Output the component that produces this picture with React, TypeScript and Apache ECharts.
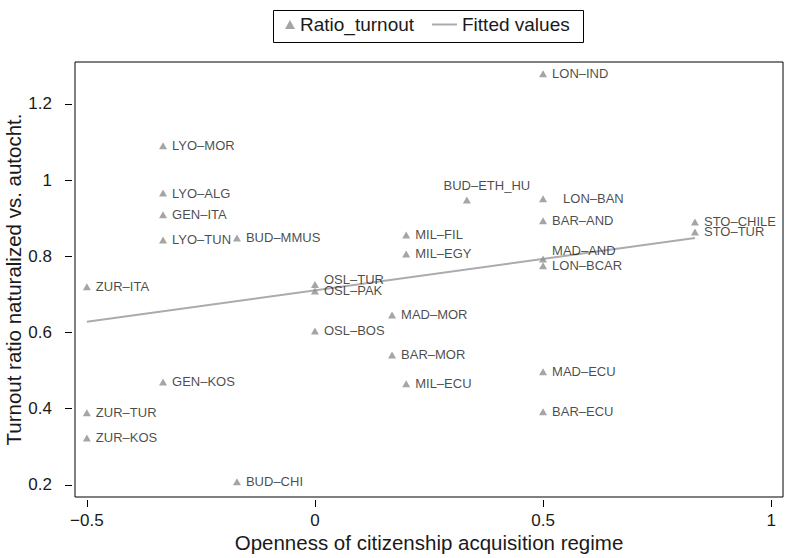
import React, { useEffect, useRef } from "react";
import * as echarts from "echarts";

// City–origin pairs: openness of the citizenship regime vs. turnout ratio
const pairNames = [
  "LON–IND", "LYO–MOR", "LYO–ALG", "GEN–ITA", "LYO–TUN", "BUD–MMUS", "ZUR–ITA",
  "OSL–TUR", "OSL–PAK", "OSL–BOS", "GEN–KOS", "ZUR–TUR", "ZUR–KOS", "BUD–CHI",
  "BUD–ETH_HU", "MIL–FIL", "MIL–EGY", "MAD–MOR", "BAR–MOR", "MIL–ECU", "LON–BAN",
  "BAR–AND", "MAD–AND", "LON–BCAR", "MAD–ECU", "BAR–ECU", "STO–CHILE", "STO–TUR",
];
const openness = [
  0.5, -0.333, -0.333, -0.333, -0.333, -0.171, -0.5,
  0, 0, 0, -0.333, -0.5, -0.5, -0.171,
  0.333, 0.2, 0.2, 0.169, 0.169, 0.2, 0.5,
  0.5, 0.5, 0.5, 0.5, 0.5, 0.833, 0.833,
];
const turnoutRatio = [
  1.279, 1.09, 0.966, 0.909, 0.843, 0.848, 0.72,
  0.726, 0.709, 0.604, 0.47, 0.389, 0.323, 0.208,
  0.948, 0.856, 0.806, 0.646, 0.541, 0.465, 0.951,
  0.893, 0.793, 0.775, 0.497, 0.392, 0.89, 0.864,
];

// Fitted regression line endpoints
const fitX = [-0.5, 0.833];
const fitY = [0.628, 0.848];

const xTicks = [-0.5, 0, 0.5, 1];
const yTicks = [0.2, 0.4, 0.6, 0.8, 1, 1.2];

// Marker-label placement for crowded points
const labelTweaks: Record<string, any> = {
  "BUD–ETH_HU": { position: "top", offset: [20, 0], distance: 4 },
  "OSL–TUR": { offset: [0, -5] },
  "MAD–AND": { offset: [0, -8] },
  "LON–BAN": { distance: 16 },
};

const FONT = "'Liberation Sans', Arial, Helvetica, sans-serif";
const INK = "#1a1a1a";
const MARK = "#8e8e8e";
const FIT = "#ababab";

export default function App() {
  const ref = useRef<HTMLDivElement>(null);

  useEffect(() => {
    if (!ref.current) return;
    const chart = echarts.init(ref.current, undefined, { renderer: "svg" });

    const points = pairNames.map((name, i) => {
      const t = labelTweaks[name];
      const item: any = { name, value: [openness[i], turnoutRatio[i]] };
      if (t) item.label = { ...t };
      return item;
    });

    const fmt = (v: number) => String(v).replace("-", "\u2212");
    const legendText = { fontFamily: FONT, fontSize: 19, color: INK };

    chart.setOption({
      animation: false,
      backgroundColor: "#ffffff",
      textStyle: { fontFamily: FONT },
      legend: [
        {
          left: 285,
          top: 15,
          padding: 0,
          itemWidth: 10,
          itemHeight: 9,
          textStyle: legendText,
          data: [{ name: "Ratio_turnout", icon: "triangle" }],
        },
        {
          left: 432,
          top: 15,
          padding: 0,
          itemWidth: 25,
          itemHeight: 2,
          textStyle: legendText,
          data: [{ name: "Fitted values", icon: "rect" }],
        },
      ],
      graphic: [
        {
          type: "rect",
          shape: { x: 273.5, y: 10.5, width: 310, height: 32 },
          style: { fill: "none", stroke: "#000", lineWidth: 1 },
          silent: true,
        },
      ],
      grid: {
        left: 75,
        right: 2,
        top: 62,
        bottom: 61,
        outerBoundsMode: "none",
        containLabel: false,
        show: true,
        borderColor: "#000",
        borderWidth: 1,
        backgroundColor: "#fff",
      },
      xAxis: {
        type: "value",
        min: -0.526,
        max: 1.026,
        offset: 3,
        name: "Openness of citizenship acquisition regime",
        nameLocation: "middle",
        nameGap: 32,
        nameMoveOverlap: false,
        nameTextStyle: { fontFamily: FONT, fontSize: 20.5, color: INK },
        axisLine: { show: false, onZero: false },
        splitLine: { show: false },
        axisTick: {
          show: true,
          length: 7,
          lineStyle: { color: "#000", width: 1 },
          customValues: xTicks,
        },
        axisLabel: {
          fontFamily: FONT,
          fontSize: 17,
          color: INK,
          margin: 12,
          customValues: xTicks,
          formatter: (v: number) => fmt(v),
        },
      },
      yAxis: {
        type: "value",
        min: 0.168,
        max: 1.31,
        offset: 3,
        name: "Turnout ratio naturalized vs. autocht.",
        nameLocation: "middle",
        nameGap: 48,
        nameRotate: 90,
        nameMoveOverlap: false,
        nameTextStyle: { fontFamily: FONT, fontSize: 20.5, color: INK },
        axisLine: { show: false, onZero: false },
        splitLine: { show: false },
        axisTick: {
          show: true,
          length: 7,
          lineStyle: { color: "#000", width: 1 },
          customValues: yTicks,
        },
        axisLabel: {
          fontFamily: FONT,
          fontSize: 17,
          color: INK,
          margin: 20,
          customValues: yTicks,
          formatter: (v: number) => fmt(v),
        },
      },
      series: [
        {
          name: "Ratio_turnout",
          type: "scatter",
          symbol: "triangle",
          symbolSize: [8, 7],
          itemStyle: { color: MARK },
          label: {
            show: true,
            position: "right",
            distance: 5,
            formatter: "{b}",
            fontFamily: FONT,
            fontSize: 13,
            color: INK,
          },
          data: points,
          z: 3,
        },
        {
          name: "Fitted values",
          type: "line",
          symbol: "none",
          itemStyle: { color: FIT },
          lineStyle: { color: FIT, width: 2 },
          data: fitX.map((x, i) => [x, fitY[i]]),
          z: 2,
        },
      ],
    });

    return () => chart.dispose();
  }, []);

  return (
    <div
      ref={ref}
      style={{ position: "absolute", left: 0, top: 0, width: 785, height: 558 }}
    />
  );
}
